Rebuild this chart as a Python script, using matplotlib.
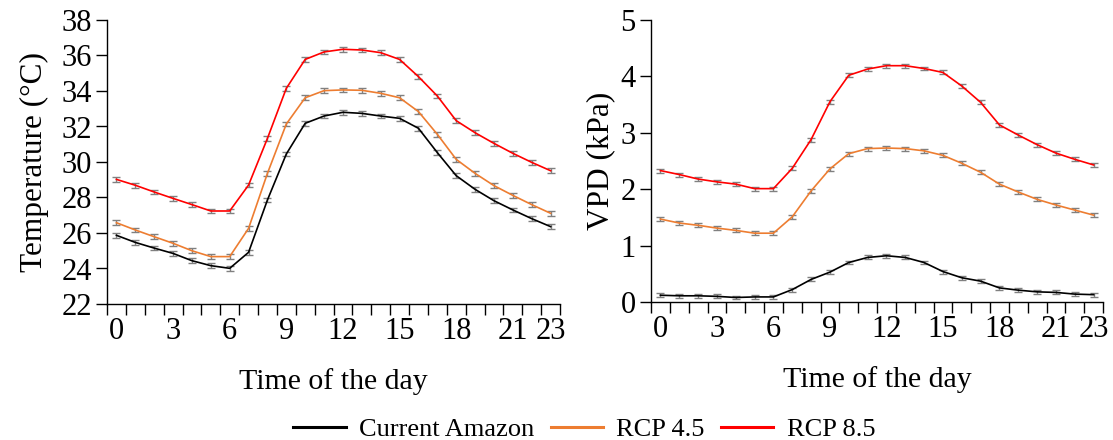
import numpy as np
import matplotlib
matplotlib.use("Agg")
import matplotlib.pyplot as plt
from matplotlib.lines import Line2D

plt.rcParams['font.family'] = ['Liberation Serif', 'DejaVu Serif']
plt.rcParams['mathtext.fontset'] = 'stix'

hours = list(range(24))
tick_labels = ["0", "3", "6", "9", "12", "15", "18", "21", "23"]
tick_hours = [0, 3, 6, 9, 12, 15, 18, 21, 23]

series_names = ["Current Amazon", "RCP 4.5", "RCP 8.5"]
series_colors = ["#000000", "#ED7D31", "#FF0000"]

# Air temperature (°C)
temp_current = [25.87, 25.47, 25.15, 24.85, 24.44, 24.16, 24.01, 24.91, 27.86, 30.45,
                32.18, 32.59, 32.80, 32.74, 32.59, 32.46, 31.90, 30.53, 29.23, 28.46,
                27.82, 27.30, 26.81, 26.36]
temp_rcp45 = [26.58, 26.17, 25.79, 25.42, 25.00, 24.67, 24.67, 26.26, 29.36, 32.14,
              33.62, 34.02, 34.06, 34.04, 33.87, 33.62, 32.84, 31.56, 30.15, 29.36,
              28.67, 28.12, 27.60, 27.11]
temp_rcp85 = [29.02, 28.69, 28.31, 27.95, 27.60, 27.24, 27.24, 28.70, 31.33, 34.15,
              35.78, 36.20, 36.35, 36.31, 36.16, 35.78, 34.81, 33.72, 32.33, 31.65,
              31.05, 30.49, 29.98, 29.51]
temp_err = 0.13

# Vapour pressure deficit (kPa)
vpd_current = [0.12, 0.11, 0.11, 0.10, 0.08, 0.09, 0.09, 0.22, 0.40, 0.53,
               0.70, 0.79, 0.82, 0.79, 0.70, 0.54, 0.43, 0.37, 0.25, 0.21,
               0.18, 0.17, 0.14, 0.13]
vpd_rcp45 = [1.47, 1.40, 1.36, 1.31, 1.27, 1.22, 1.22, 1.51, 1.97, 2.36,
             2.63, 2.72, 2.73, 2.72, 2.68, 2.60, 2.46, 2.30, 2.09, 1.95,
             1.82, 1.72, 1.63, 1.54]
vpd_rcp85 = [2.33, 2.26, 2.18, 2.13, 2.09, 2.01, 2.01, 2.37, 2.88, 3.55,
             4.02, 4.13, 4.19, 4.19, 4.14, 4.07, 3.83, 3.54, 3.14, 2.96,
             2.79, 2.64, 2.53, 2.43]
vpd_err = 0.035

fig = plt.figure(figsize=(11.13, 4.40), dpi=100)
ax1 = fig.add_axes([107 / 1113, 1 - 304 / 440, (560 - 107) / 1113, (304 - 20) / 440])
ax2 = fig.add_axes([651 / 1113, 1 - 302 / 440, (1103 - 651) / 1113, (302 - 20) / 440])


def draw_panel(ax, data, err, ylim, yticks, ylabel, ylabelpad):
    for vals, col in zip(data, series_colors):
        ax.errorbar(hours, vals, yerr=err, color=col, lw=1.2,
                    ecolor="#808080", elinewidth=1.0, capsize=3, capthick=1.0,
                    zorder=3)
    ax.set_xlim(-0.5, 23.5)
    ax.set_ylim(*ylim)
    ax.set_yticks(yticks)
    ax.set_yticklabels([str(t) for t in yticks], fontsize=22)
    ax.set_xticks(tick_hours)
    ax.set_xticklabels(tick_labels, fontsize=22)
    ax.set_xticks(np.arange(-0.5, 24, 1), minor=True)
    ax.tick_params(axis='x', which='major', length=0, pad=9)
    ax.tick_params(axis='x', which='minor', length=8, width=1.0, direction='out')
    ax.tick_params(axis='y', which='major', length=8, width=1.0, direction='out', pad=3)
    for s in ("top", "right"):
        ax.spines[s].set_visible(False)
    for s in ("left", "bottom"):
        ax.spines[s].set_linewidth(1.0)
    ax.set_xlabel("Time of the day", fontsize=21.5, labelpad=16)
    ax.set_ylabel(ylabel, fontsize=22.5, labelpad=ylabelpad)


draw_panel(ax1, [temp_current, temp_rcp45, temp_rcp85], temp_err,
           (22, 38), list(range(22, 39, 2)), "Temperature (°C)", 9)
draw_panel(ax2, [vpd_current, vpd_rcp45, vpd_rcp85], vpd_err,
           (0, 5), [0, 1, 2, 3, 4, 5], "VPD (kPa)", 4)

handles = [Line2D([], [], color=c, lw=2.2) for c in series_colors]
fig.legend(handles, series_names, loc="lower center", ncol=3, frameon=False,
           fontsize=19, bbox_to_anchor=(0.525, -0.056), handlelength=2.0,
           columnspacing=0.6, handletextpad=0.5)

fig.savefig("out.png", dpi=100)
